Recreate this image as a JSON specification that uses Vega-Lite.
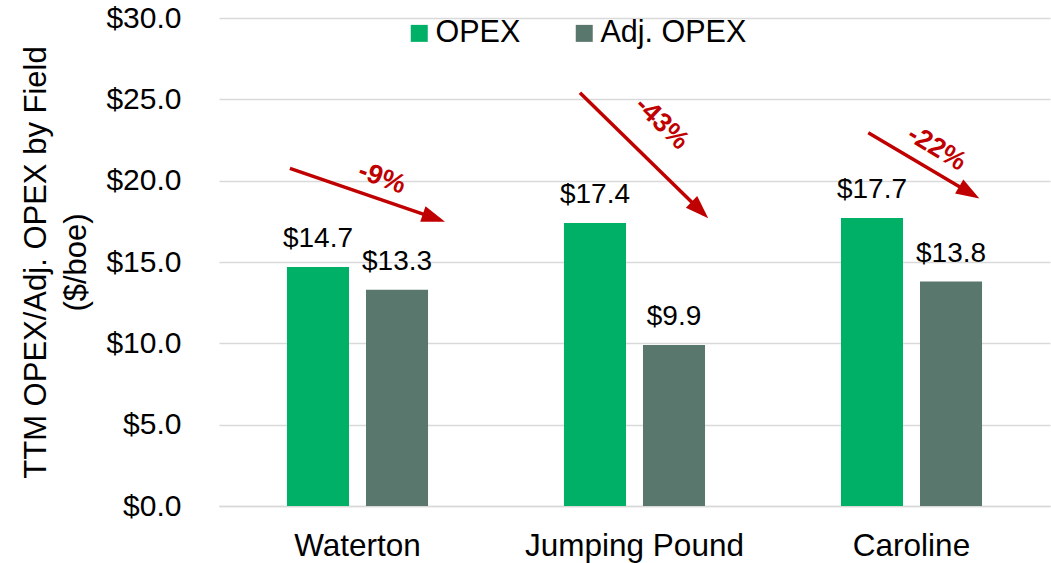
{
  "$schema": "https://vega.github.io/schema/vega-lite/v6.json",
  "width": 831,
  "height": 488,
  "autosize": {"type": "none"},
  "padding": {"left": 219, "top": 18, "right": 1, "bottom": 57},
  "config": {
    "view": {"stroke": null},
    "font": "Liberation Sans",
    "axis": {"labelColor": "#000000", "titleColor": "#000000"}
  },
  "datasets": {
    "bars": [
      {"field": "Waterton", "series": "OPEX", "value": 14.7},
      {"field": "Waterton", "series": "Adj. OPEX", "value": 13.3},
      {"field": "Jumping Pound", "series": "OPEX", "value": 17.4},
      {"field": "Jumping Pound", "series": "Adj. OPEX", "value": 9.9},
      {"field": "Caroline", "series": "OPEX", "value": 17.7},
      {"field": "Caroline", "series": "Adj. OPEX", "value": 13.8}
    ],
    "arrows": [
      {"field": "Waterton", "label": "-9%", "x0": 0.256, "y0": 20.76, "x1": 0.7975, "y1": 17.59, "lx": 0.588, "ly": 20.15},
      {"field": "Jumping Pound", "label": "-43%", "x0": 1.303, "y0": 25.41, "x1": 1.7523, "y1": 17.92, "lx": 1.598, "ly": 23.53},
      {"field": "Caroline", "label": "-22%", "x0": 2.344, "y0": 22.95, "x1": 2.7282, "y1": 19.08, "lx": 2.591, "ly": 21.99}
    ]
  },
  "layer": [
    {
      "data": {"name": "bars"},
      "encoding": {
        "x": {
          "field": "field", "type": "nominal",
          "sort": ["Waterton", "Jumping Pound", "Caroline"],
          "scale": {"paddingInner": 0, "paddingOuter": 0},
          "axis": {
            "title": null, "labelAngle": 0, "labelFontSize": 31.5, "ticks": false,
            "domainColor": "#D9D9D9", "domainWidth": 1.5, "labelPadding": 49,
            "labelBaseline": "alphabetic", "grid": false, "labelLimit": 0
          }
        },
        "xOffset": {
          "field": "series", "type": "nominal",
          "sort": ["OPEX", "Adj. OPEX"],
          "scale": {"paddingInner": 0.215, "paddingOuter": 0.86}
        },
        "y": {
          "field": "value", "type": "quantitative",
          "scale": {"domain": [0, 30], "nice": false},
          "axis": {
            "title": ["TTM OPEX/Adj. OPEX by Field", "($/boe)"],
            "values": [0, 5, 10, 15, 20, 25, 30],
            "format": "$.1f", "labelFontSize": 30, "labelPadding": 38,
            "ticks": false, "domain": false, "grid": true,
            "gridColor": "#D9D9D9", "gridWidth": 1.5,
            "titleFontSize": 31, "titleFontWeight": "normal", "titleAngle": -90,
            "titleX": -174, "titleY": 244, "titleAlign": "center",
            "titleBaseline": "alphabetic", "titleLineHeight": 40
          }
        }
      },
      "layer": [
        {
          "mark": {"type": "bar"},
          "encoding": {
            "color": {
              "field": "series", "type": "nominal",
              "scale": {"domain": ["OPEX", "Adj. OPEX"], "range": ["#00B066", "#5A776D"]},
              "legend": {
                "title": null, "orient": "none", "legendX": 185, "legendY": 0,
                "direction": "horizontal", "symbolType": "square", "symbolSize": 289,
                "symbolStrokeWidth": 0, "labelFontSize": 30.5, "labelOffset": 1,
                "columnPadding": 48, "padding": 0, "labelColor": "#000000",
                "symbolOpacity": 1
              }
            }
          }
        },
        {
          "mark": {"type": "text", "dy": -20, "baseline": "alphabetic", "align": "center", "fontSize": 28, "color": "#000000"},
          "encoding": {
            "text": {"field": "value", "type": "quantitative", "format": "$.1f"}
          }
        }
      ]
    },
    {
      "data": {"name": "arrows"},
      "layer": [
        {
          "mark": {"type": "rule", "color": "#C00000", "strokeWidth": 3.5},
          "encoding": {
            "x": {"field": "x0", "type": "quantitative", "scale": {"domain": [0, 3], "nice": false, "zero": false}, "axis": null},
            "x2": {"field": "x1"},
            "y": {"field": "y0", "type": "quantitative", "scale": {"domain": [0, 30], "nice": false}, "axis": null},
            "y2": {"field": "y1"}
          }
        },
        {
          "transform": [{"filter": "datum.field === 'Waterton'"}],
          "mark": {"type": "point", "shape": "M0.3,0L-1,-0.45L-1,0.45Z", "size": 1296, "filled": true, "color": "#C00000", "opacity": 1, "strokeWidth": 0, "angle": 19},
          "encoding": {
            "x": {"field": "x1", "type": "quantitative", "scale": {"domain": [0, 3], "nice": false, "zero": false}, "axis": null},
            "y": {"field": "y1", "type": "quantitative", "scale": {"domain": [0, 30], "nice": false}, "axis": null}
          }
        },
        {
          "transform": [{"filter": "datum.field === 'Jumping Pound'"}],
          "mark": {"type": "point", "shape": "M0.3,0L-1,-0.45L-1,0.45Z", "size": 1296, "filled": true, "color": "#C00000", "opacity": 1, "strokeWidth": 0, "angle": 44.4},
          "encoding": {
            "x": {"field": "x1", "type": "quantitative", "scale": {"domain": [0, 3], "nice": false, "zero": false}, "axis": null},
            "y": {"field": "y1", "type": "quantitative", "scale": {"domain": [0, 30], "nice": false}, "axis": null}
          }
        },
        {
          "transform": [{"filter": "datum.field === 'Caroline'"}],
          "mark": {"type": "point", "shape": "M0.3,0L-1,-0.45L-1,0.45Z", "size": 1296, "filled": true, "color": "#C00000", "opacity": 1, "strokeWidth": 0, "angle": 30.6},
          "encoding": {
            "x": {"field": "x1", "type": "quantitative", "scale": {"domain": [0, 3], "nice": false, "zero": false}, "axis": null},
            "y": {"field": "y1", "type": "quantitative", "scale": {"domain": [0, 30], "nice": false}, "axis": null}
          }
        },
        {
          "transform": [{"filter": "datum.field === 'Waterton'"}],
          "mark": {"type": "text", "angle": 20, "fontSize": 27, "fontWeight": "bold", "color": "#C00000", "align": "center", "baseline": "middle"},
          "encoding": {
            "x": {"field": "lx", "type": "quantitative", "scale": {"domain": [0, 3], "nice": false, "zero": false}, "axis": null},
            "y": {"field": "ly", "type": "quantitative", "scale": {"domain": [0, 30], "nice": false}, "axis": null},
            "text": {"field": "label", "type": "nominal"}
          }
        },
        {
          "transform": [{"filter": "datum.field === 'Jumping Pound'"}],
          "mark": {"type": "text", "angle": 44, "fontSize": 27, "fontWeight": "bold", "color": "#C00000", "align": "center", "baseline": "middle"},
          "encoding": {
            "x": {"field": "lx", "type": "quantitative", "scale": {"domain": [0, 3], "nice": false, "zero": false}, "axis": null},
            "y": {"field": "ly", "type": "quantitative", "scale": {"domain": [0, 30], "nice": false}, "axis": null},
            "text": {"field": "label", "type": "nominal"}
          }
        },
        {
          "transform": [{"filter": "datum.field === 'Caroline'"}],
          "mark": {"type": "text", "angle": 31, "fontSize": 27, "fontWeight": "bold", "color": "#C00000", "align": "center", "baseline": "middle"},
          "encoding": {
            "x": {"field": "lx", "type": "quantitative", "scale": {"domain": [0, 3], "nice": false, "zero": false}, "axis": null},
            "y": {"field": "ly", "type": "quantitative", "scale": {"domain": [0, 30], "nice": false}, "axis": null},
            "text": {"field": "label", "type": "nominal"}
          }
        }
      ]
    }
  ],
  "resolve": {"scale": {"x": "independent"}, "axis": {"y": "independent"}}
}
